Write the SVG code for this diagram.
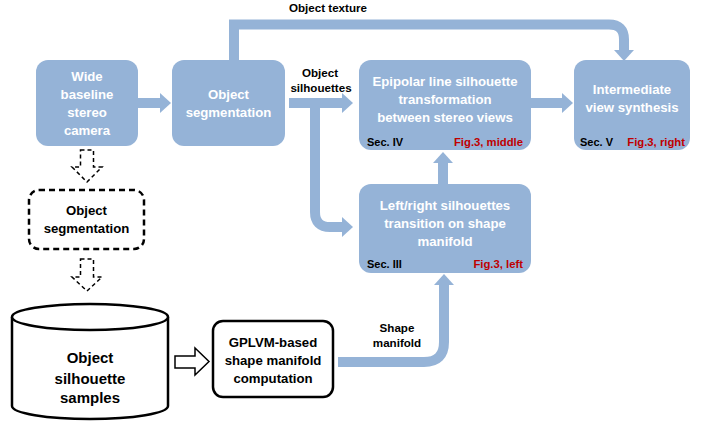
<svg xmlns="http://www.w3.org/2000/svg" width="710" height="423" viewBox="0 0 710 423">
  <style>
    .blue { fill: #95b3d7; }
    .t { font-family: "Liberation Sans", Arial, sans-serif; font-weight: bold; text-anchor: middle; }
    .wt { fill: #ffffff; font-size: 13.2px; }
    .bt { fill: #000000; font-size: 13.2px; }
    .lbl { fill: #000000; font-size: 11.6px; }
    .sec { font-family: "Liberation Sans", Arial, sans-serif; font-weight: bold; font-size: 11px; fill: #000000; }
    .fig { font-family: "Liberation Sans", Arial, sans-serif; font-weight: bold; font-size: 11.3px; fill: #c00000; text-anchor: end; }
    .conn { fill: none; stroke: #95b3d7; stroke-width: 10; }
    .hollow { fill: #ffffff; stroke: #000000; stroke-width: 1.5; stroke-linejoin: miter; }
    .dashed { stroke-dasharray: 4 3; }
  </style>
  <defs>
    <marker id="head" markerUnits="userSpaceOnUse" markerWidth="11" markerHeight="20" viewBox="0 0 11 20" refX="0" refY="10" orient="auto" overflow="visible">
      <path d="M0,0 L11,10 L0,20 Z" fill="#95b3d7"/>
    </marker>
  </defs>

  <!-- connectors -->
  <g id="connectors">
    <path class="conn" d="M138,103 H160" marker-end="url(#head)"/>
    <path class="conn" d="M234,60 V24.5 H609 Q624,24.5 624,39.5 V50" marker-end="url(#head)"/>
    <path class="conn" d="M289,103 H342" marker-end="url(#head)"/>
    <path class="conn" d="M315,103 V212 Q315,227 330,227 H342" marker-end="url(#head)"/>
    <path class="conn" d="M531,103 H562" marker-end="url(#head)"/>
    <path class="conn" d="M443,184 V163" marker-end="url(#head)"/>
    <path class="conn" d="M338,362 H424 Q444,362 444,342 V285" marker-end="url(#head)"/>
    <!-- hollow dashed arrows -->
    <path class="hollow dashed" d="M80.5,150 H93.5 V167 H102 L87,182 L72,167 H80.5 Z"/>
    <path class="hollow dashed" d="M80.5,259 H93.5 V277 H102 L87,291 L72,277 H80.5 Z"/>
    <!-- hollow solid arrow -->
    <path class="hollow" d="M175,356 H195 V348 L209,361.5 L195,375 V368 H175 Z"/>
    <!-- connector labels -->
    <text class="t lbl" x="328" y="12">Object texture</text>
    <text class="t lbl" x="320" y="77">Object</text>
    <text class="t lbl" x="321" y="92">silhouettes</text>
    <text class="t lbl" x="397" y="332">Shape</text>
    <text class="t lbl" x="397" y="347">manifold</text>
  </g>

  <g id="camera">
    <rect class="blue" x="36" y="60" width="102" height="86" rx="12"/>
    <text class="t wt" x="87" y="81">Wide</text>
    <text class="t wt" x="87" y="99">baseline</text>
    <text class="t wt" x="87" y="117">stereo</text>
    <text class="t wt" x="87" y="135">camera</text>
  </g>

  <g id="segmentation">
    <rect class="blue" x="172" y="60" width="113" height="86" rx="12"/>
    <text class="t wt" x="228.5" y="99">Object</text>
    <text class="t wt" x="228.5" y="117">segmentation</text>
  </g>

  <g id="epipolar">
    <rect class="blue" x="359" y="60" width="172" height="90" rx="12"/>
    <text class="t wt" x="445" y="86">Epipolar line silhouette</text>
    <text class="t wt" x="445" y="104">transformation</text>
    <text class="t wt" x="445" y="122">between stereo views</text>
    <text class="sec" x="367" y="146">Sec. IV</text>
    <text class="fig" x="523" y="146">Fig.3, middle</text>
  </g>

  <g id="synthesis">
    <rect class="blue" x="574" y="60" width="116" height="90" rx="12"/>
    <text class="t wt" x="632" y="94">Intermediate</text>
    <text class="t wt" x="632" y="112">view synthesis</text>
    <text class="sec" x="580" y="146">Sec. V</text>
    <text class="fig" x="685" y="146">Fig.3, right</text>
  </g>

  <g id="transition">
    <rect class="blue" x="359" y="184" width="172" height="89" rx="12"/>
    <text class="t wt" x="445" y="210">Left/right silhouettes</text>
    <text class="t wt" x="445" y="228">transition on shape</text>
    <text class="t wt" x="445" y="246">manifold</text>
    <text class="sec" x="367" y="268">Sec. III</text>
    <text class="fig" x="523" y="268">Fig.3, left</text>
  </g>

  <g id="offline-segmentation">
    <rect x="29" y="190" width="115" height="59" rx="10" fill="#ffffff" stroke="#000000" stroke-width="2.5" stroke-dasharray="6 4"/>
    <text class="t bt" x="86.5" y="215">Object</text>
    <text class="t bt" x="86.5" y="233">segmentation</text>
  </g>

  <g id="samples">
    <path d="M12,317 V406 A78,13 0 0 0 168,406 V317" fill="#ffffff" stroke="#000000" stroke-width="2.5"/>
    <ellipse cx="90" cy="317" rx="78" ry="13" fill="#ffffff" stroke="#000000" stroke-width="2.5"/>
    <text class="t" x="90" y="363" font-size="15" fill="#000000">Object</text>
    <text class="t" x="90" y="384" font-size="15" fill="#000000">silhouette</text>
    <text class="t" x="90" y="403" font-size="15" fill="#000000">samples</text>
  </g>

  <g id="gplvm">
    <rect x="213" y="321" width="120" height="76" rx="10" fill="#ffffff" stroke="#000000" stroke-width="2.5"/>
    <text class="t bt" x="273" y="347">GPLVM-based</text>
    <text class="t bt" x="273" y="365">shape manifold</text>
    <text class="t bt" x="273" y="383">computation</text>
  </g>
</svg>
